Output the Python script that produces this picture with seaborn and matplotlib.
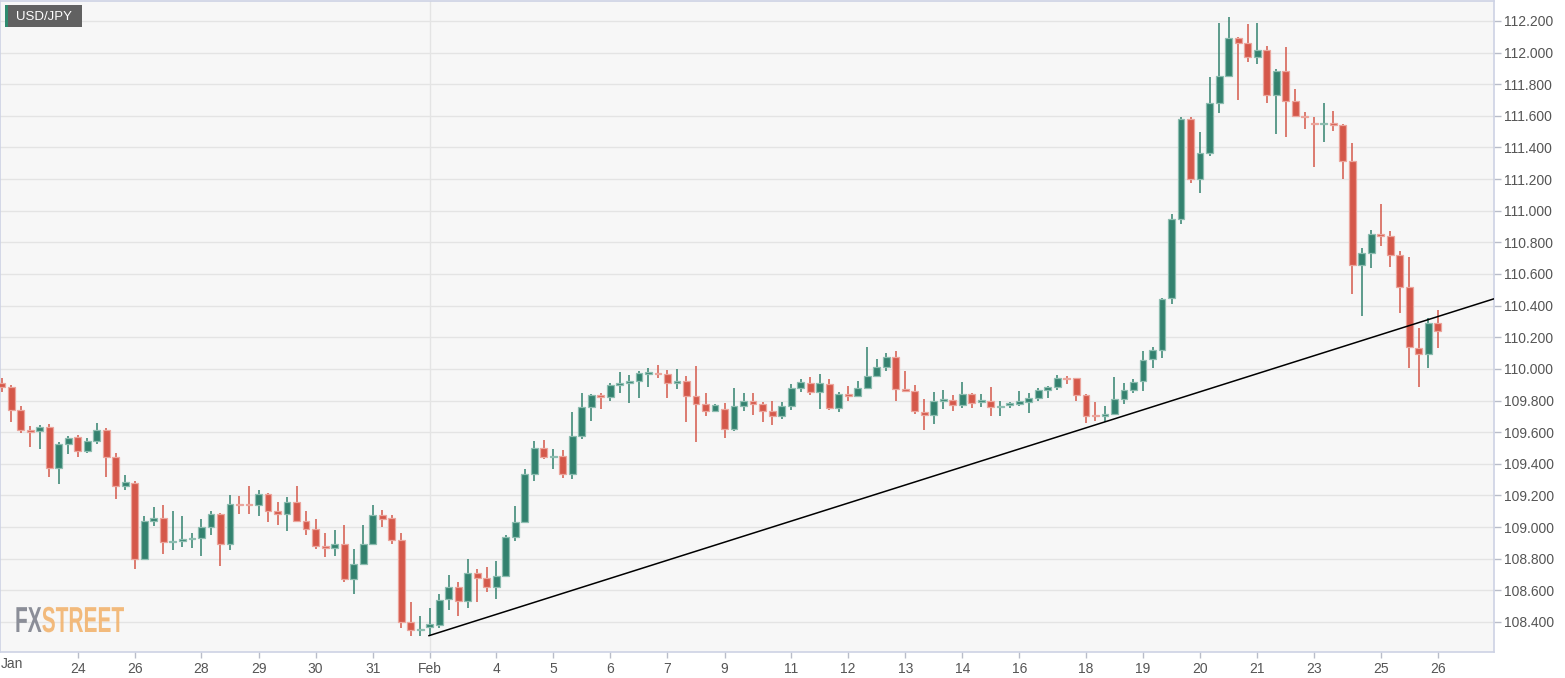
import numpy as np
import pandas as pd
import matplotlib
matplotlib.use("Agg")
import matplotlib.pyplot as plt
import seaborn as sns
from matplotlib import font_manager
from matplotlib.patches import Rectangle
from matplotlib.patheffects import AbstractPathEffect
from matplotlib.transforms import Affine2D

# ---------------- data (USD/JPY, 4-hour candles) ----------------
opens = [109.910, 109.884, 109.739, 109.612, 109.606, 109.635, 109.374, 109.526, 109.570, 109.480,
         109.547, 109.612, 109.441, 109.258, 109.278, 108.800, 109.036, 109.055, 108.903, 108.913,
         108.923, 108.933, 109.000, 109.085, 108.895, 109.148, 109.145, 109.140, 109.208, 109.103,
         109.083, 109.160, 109.040, 108.990, 108.880, 108.865, 108.893, 108.670, 108.767, 108.893,
         109.077, 109.055, 108.918, 108.400, 108.347, 108.367, 108.380, 108.547, 108.624, 108.530,
         108.712, 108.676, 108.620, 108.690, 108.940, 109.030, 109.336, 109.500, 109.440, 109.450,
         109.338, 109.576, 109.758, 109.835, 109.820, 109.897, 109.912, 109.925, 109.970, 109.977,
         109.966, 109.910, 109.925, 109.830, 109.778, 109.734, 109.747, 109.620, 109.764, 109.800,
         109.780, 109.732, 109.700, 109.768, 109.877, 109.913, 109.852, 109.907, 109.750, 109.843,
         109.828, 109.881, 109.955, 110.014, 110.077, 109.871, 109.861, 109.730, 109.707, 109.800,
         109.805, 109.772, 109.840, 109.790, 109.800, 109.758, 109.772, 109.776, 109.793, 109.818,
         109.867, 109.888, 109.945, 109.940, 109.836, 109.706, 109.700, 109.715, 109.808, 109.867,
         109.924, 110.060, 110.120, 110.447, 110.946, 111.580, 111.199, 111.364, 111.684, 111.852,
         112.090, 112.059, 111.970, 112.015, 111.732, 111.880, 111.694, 111.600, 111.555, 111.547,
         111.553, 111.540, 111.313, 110.657, 110.735, 110.855, 110.842, 110.718, 110.520, 110.134,
         110.094, 110.292]
highs = [109.940, 109.899, 109.766, 109.640, 109.646, 109.652, 109.538, 109.576, 109.583, 109.560,
         109.656, 109.625, 109.467, 109.327, 109.290, 109.070, 109.127, 109.138, 109.100, 109.070,
         108.960, 109.048, 109.100, 109.090, 109.200, 109.197, 109.260, 109.235, 109.214, 109.157,
         109.190, 109.260, 109.100, 109.048, 108.960, 108.980, 109.011, 108.860, 109.013, 109.140,
         109.108, 109.077, 108.960, 108.525, 108.440, 108.486, 108.580, 108.700, 108.650, 108.800,
         108.733, 108.745, 108.785, 108.950, 109.133, 109.367, 109.544, 109.550, 109.494, 109.487,
         109.726, 109.848, 109.840, 109.846, 109.913, 109.980, 109.960, 109.987, 110.004, 110.025,
         109.993, 110.000, 109.953, 110.017, 109.846, 109.778, 109.783, 109.877, 109.850, 109.846,
         109.793, 109.800, 109.790, 109.903, 109.934, 109.947, 109.968, 109.937, 109.856, 109.890,
         109.924, 110.137, 110.061, 110.099, 110.115, 109.985, 109.896, 109.808, 109.853, 109.865,
         109.834, 109.918, 109.845, 109.840, 109.884, 109.800, 109.793, 109.860, 109.850, 109.877,
         109.890, 109.962, 109.957, 109.945, 109.840, 109.793, 109.767, 109.949, 109.910, 109.937,
         110.113, 110.140, 110.450, 110.978, 111.591, 111.590, 111.496, 111.848, 112.185, 112.223,
         112.097, 112.179, 112.185, 112.044, 111.895, 112.034, 111.768, 111.623, 111.595, 111.680,
         111.631, 111.545, 111.427, 110.763, 110.878, 111.043, 110.872, 110.746, 110.710, 110.257,
         110.320, 110.373]
lows = [109.855, 109.663, 109.593, 109.505, 109.492, 109.315, 109.271, 109.462, 109.441, 109.467,
        109.526, 109.315, 109.176, 109.235, 108.732, 108.796, 109.009, 108.828, 108.853, 108.873,
        108.865, 108.820, 108.950, 108.757, 108.857, 109.085, 109.080, 109.070, 109.034, 109.011,
        108.977, 109.035, 108.950, 108.863, 108.808, 108.820, 108.650, 108.580, 108.765, 108.890,
        108.998, 108.893, 108.360, 108.310, 108.310, 108.313, 108.360, 108.474, 108.437, 108.486,
        108.525, 108.587, 108.547, 108.685, 108.914, 109.025, 109.293, 109.432, 109.367, 109.312,
        109.306, 109.555, 109.671, 109.745, 109.800, 109.850, 109.783, 109.818, 109.884, 109.940,
        109.815, 109.871, 109.667, 109.536, 109.700, 109.728, 109.562, 109.606, 109.732, 109.707,
        109.665, 109.644, 109.683, 109.740, 109.854, 109.834, 109.745, 109.740, 109.726, 109.800,
        109.823, 109.875, 109.947, 109.985, 109.800, 109.859, 109.715, 109.613, 109.650, 109.745,
        109.734, 109.751, 109.751, 109.757, 109.700, 109.700, 109.751, 109.766, 109.720, 109.797,
        109.814, 109.865, 109.903, 109.800, 109.656, 109.673, 109.662, 109.713, 109.777, 109.846,
        109.862, 110.008, 110.067, 110.409, 110.918, 111.176, 111.110, 111.346, 111.616, 111.848,
        111.700, 111.943, 111.926, 111.680, 111.484, 111.468, 111.595, 111.515, 111.275, 111.437,
        111.504, 111.199, 110.472, 110.335, 110.636, 110.779, 110.643, 110.352, 110.008, 109.888,
        110.008, 110.134]
closes = [109.884, 109.739, 109.612, 109.603, 109.635, 109.374, 109.524, 109.565, 109.480, 109.547,
          109.612, 109.441, 109.258, 109.287, 108.800, 109.036, 109.055, 108.903, 108.913, 108.923,
          108.933, 109.000, 109.085, 108.895, 109.146, 109.140, 109.138, 109.208, 109.103, 109.083,
          109.160, 109.040, 108.990, 108.880, 108.865, 108.895, 108.670, 108.767, 108.893, 109.077,
          109.053, 108.918, 108.400, 108.350, 108.355, 108.387, 108.540, 108.624, 108.530, 108.712,
          108.680, 108.620, 108.690, 108.940, 109.030, 109.336, 109.500, 109.445, 109.447, 109.338,
          109.576, 109.758, 109.835, 109.820, 109.897, 109.912, 109.925, 109.972, 109.978, 109.970,
          109.910, 109.925, 109.830, 109.778, 109.734, 109.770, 109.620, 109.764, 109.800, 109.780,
          109.734, 109.700, 109.768, 109.877, 109.915, 109.852, 109.909, 109.750, 109.843, 109.828,
          109.881, 109.955, 110.014, 110.077, 109.871, 109.861, 109.732, 109.707, 109.800, 109.810,
          109.772, 109.840, 109.787, 109.804, 109.761, 109.764, 109.783, 109.797, 109.814, 109.867,
          109.886, 109.945, 109.936, 109.832, 109.700, 109.700, 109.715, 109.808, 109.867, 109.920,
          110.056, 110.120, 110.444, 110.946, 111.580, 111.199, 111.364, 111.684, 111.852, 112.090,
          112.063, 111.970, 112.015, 111.732, 111.880, 111.694, 111.600, 111.591, 111.547, 111.555,
          111.542, 111.315, 110.657, 110.735, 110.853, 110.842, 110.720, 110.520, 110.137, 110.094,
          110.292, 110.240]

day_tick_candles = [8, 14, 21, 27, 33, 39, 45, 52, 58, 64, 70, 76, 83, 89, 95, 101, 107,
                    114, 120, 126, 132, 138, 145, 151]
day_tick_labels = ["24", "26", "28", "29", "30", "31", "Feb", "4", "5", "6", "7", "9", "11",
                   "12", "13", "14", "16", "18", "19", "20", "21", "23", "25", "26"]
price_ticks = [108.4, 108.6, 108.8, 109.0, 109.2, 109.4, 109.6, 109.8, 110.0, 110.2,
               110.4, 110.6, 110.8, 111.0, 111.2, 111.4, 111.6, 111.8, 112.0, 112.2]
trend_x = [44.9, 156.9]
trend_y = [108.313, 110.443]

# ---------------- style ----------------
sns.set_theme(style="white")
avail = {f.name for f in font_manager.fontManager.ttflist}
narrow = "Liberation Sans Narrow" if "Liberation Sans Narrow" in avail else "Liberation Sans"
plt.rcParams["font.family"] = ["Liberation Sans", "DejaVu Sans"]

W, H = 1565, 678
UP = "#33826f"
DOWN = "#d5584a"
UP_EDGE = "#8dbdb0"
DOWN_EDGE = "#eba59c"
FRAME = "#cdd2e4"
GRID = "#e4e4e4"


class HScale(AbstractPathEffect):
    """Horizontally condense glyphs around a given x (display pixels)."""
    def __init__(self, sx, x0):
        super().__init__()
        self.sx, self.x0 = sx, x0

    def draw_path(self, renderer, gc, tpath, affine, rgbFace=None):
        extra = Affine2D().translate(-self.x0, 0).scale(self.sx, 1).translate(self.x0, 0)
        renderer.draw_path(gc, tpath, affine + extra, rgbFace)


df = pd.DataFrame({"open": opens, "high": highs, "low": lows, "close": closes})
df["idx"] = np.arange(len(df))
df["up"] = df["close"] >= df["open"]

fig = plt.figure(figsize=(W / 100, H / 100), dpi=100)
fig.patch.set_facecolor("white")
ax = fig.add_axes([0.0, 0.0383, 0.9546, 0.9603])
ax.set_facecolor("#f7f7f7")

# grid
for p in price_ticks:
    ax.axhline(p, color=GRID, lw=1, zorder=0)
ax.axvline(45, color=GRID, lw=1, zorder=0)

# candles
col = np.where(df["up"], UP, DOWN)
ecol = np.where(df["up"], UP_EDGE, DOWN_EDGE)
ax.vlines(df["idx"], df["low"], df["high"], colors=col, lw=1.1, zorder=2)
body_lo = np.minimum(df["open"], df["close"])
body_h = np.maximum((df["close"] - df["open"]).abs(), 0.007)
ax.bar(df["idx"], body_h, bottom=body_lo, width=0.72, color=col,
       edgecolor=ecol, linewidth=0.9, zorder=3)

# trend line
sns.lineplot(x=trend_x, y=trend_y, ax=ax, color="black", lw=1.1, zorder=4)

ax.set_xlim(-0.18, 156.9)
ax.set_ylim(108.21, 112.326)

# axes / ticks
ax.yaxis.tick_right()
ax.set_yticks(price_ticks)
ax.set_yticklabels([f"{p:.3f}" for p in price_ticks])
ax.set_xticks(day_tick_candles)
ax.set_xticklabels(day_tick_labels)
ax.tick_params(axis="y", direction="out", length=5, width=1, color="#b9bdc9",
               labelsize=10, labelcolor="#555555", pad=2, right=True, left=False)
ax.tick_params(axis="x", direction="out", length=4, width=1, color="#b9bdc9",
               labelsize=10, labelcolor="#555555", pad=3, bottom=True)
for lab in ax.get_xticklabels():
    lab.set_fontfamily([narrow, "DejaVu Sans"])
for s in ax.spines.values():
    s.set_color(FRAME)
    s.set_linewidth(1.2)
ax.set_xlabel("")
ax.set_ylabel("")

# "Jan" label at the left edge
fig.text(0.0005, 1 - 664 / H, "Jan", ha="left", va="center", fontsize=10,
         color="#555555", family=[narrow, "DejaVu Sans"])

# symbol badge
fig.patches.append(Rectangle((5 / W, 1 - 27 / H), 77 / W, 22 / H,
                             transform=fig.transFigure, facecolor="#616161",
                             edgecolor="none", zorder=5))
fig.patches.append(Rectangle((5 / W, 1 - 27 / H), 3 / W, 22 / H,
                             transform=fig.transFigure, facecolor="#2f8b6f",
                             edgecolor="none", zorder=6))
fig.text(16 / W, 1 - 16.5 / H, "USD/JPY", ha="left", va="center",
         fontsize=9.5, color="white", zorder=7)

# watermark logo (condensed horizontally about its left edge)
logo_left, logo_base, logo_w = 15, 632, 109
t1 = fig.text(logo_left / W, 1 - logo_base / H, "FX", ha="left", va="baseline",
              fontsize=26, fontweight="bold", color="#8b8e98")
fig.canvas.draw()
w1 = t1.get_window_extent().width
t2 = fig.text((logo_left + w1) / W, 1 - logo_base / H, "STREET", ha="left",
              va="baseline", fontsize=26, fontweight="bold", color="#f2b46f",
              alpha=0.9)
fig.canvas.draw()
w2 = t2.get_window_extent().width
sx = logo_w / (w1 + w2)
t1.set_path_effects([HScale(sx, logo_left)])
t2.set_path_effects([HScale(sx, logo_left)])

fig.savefig("out.png", dpi=100, facecolor="white")
